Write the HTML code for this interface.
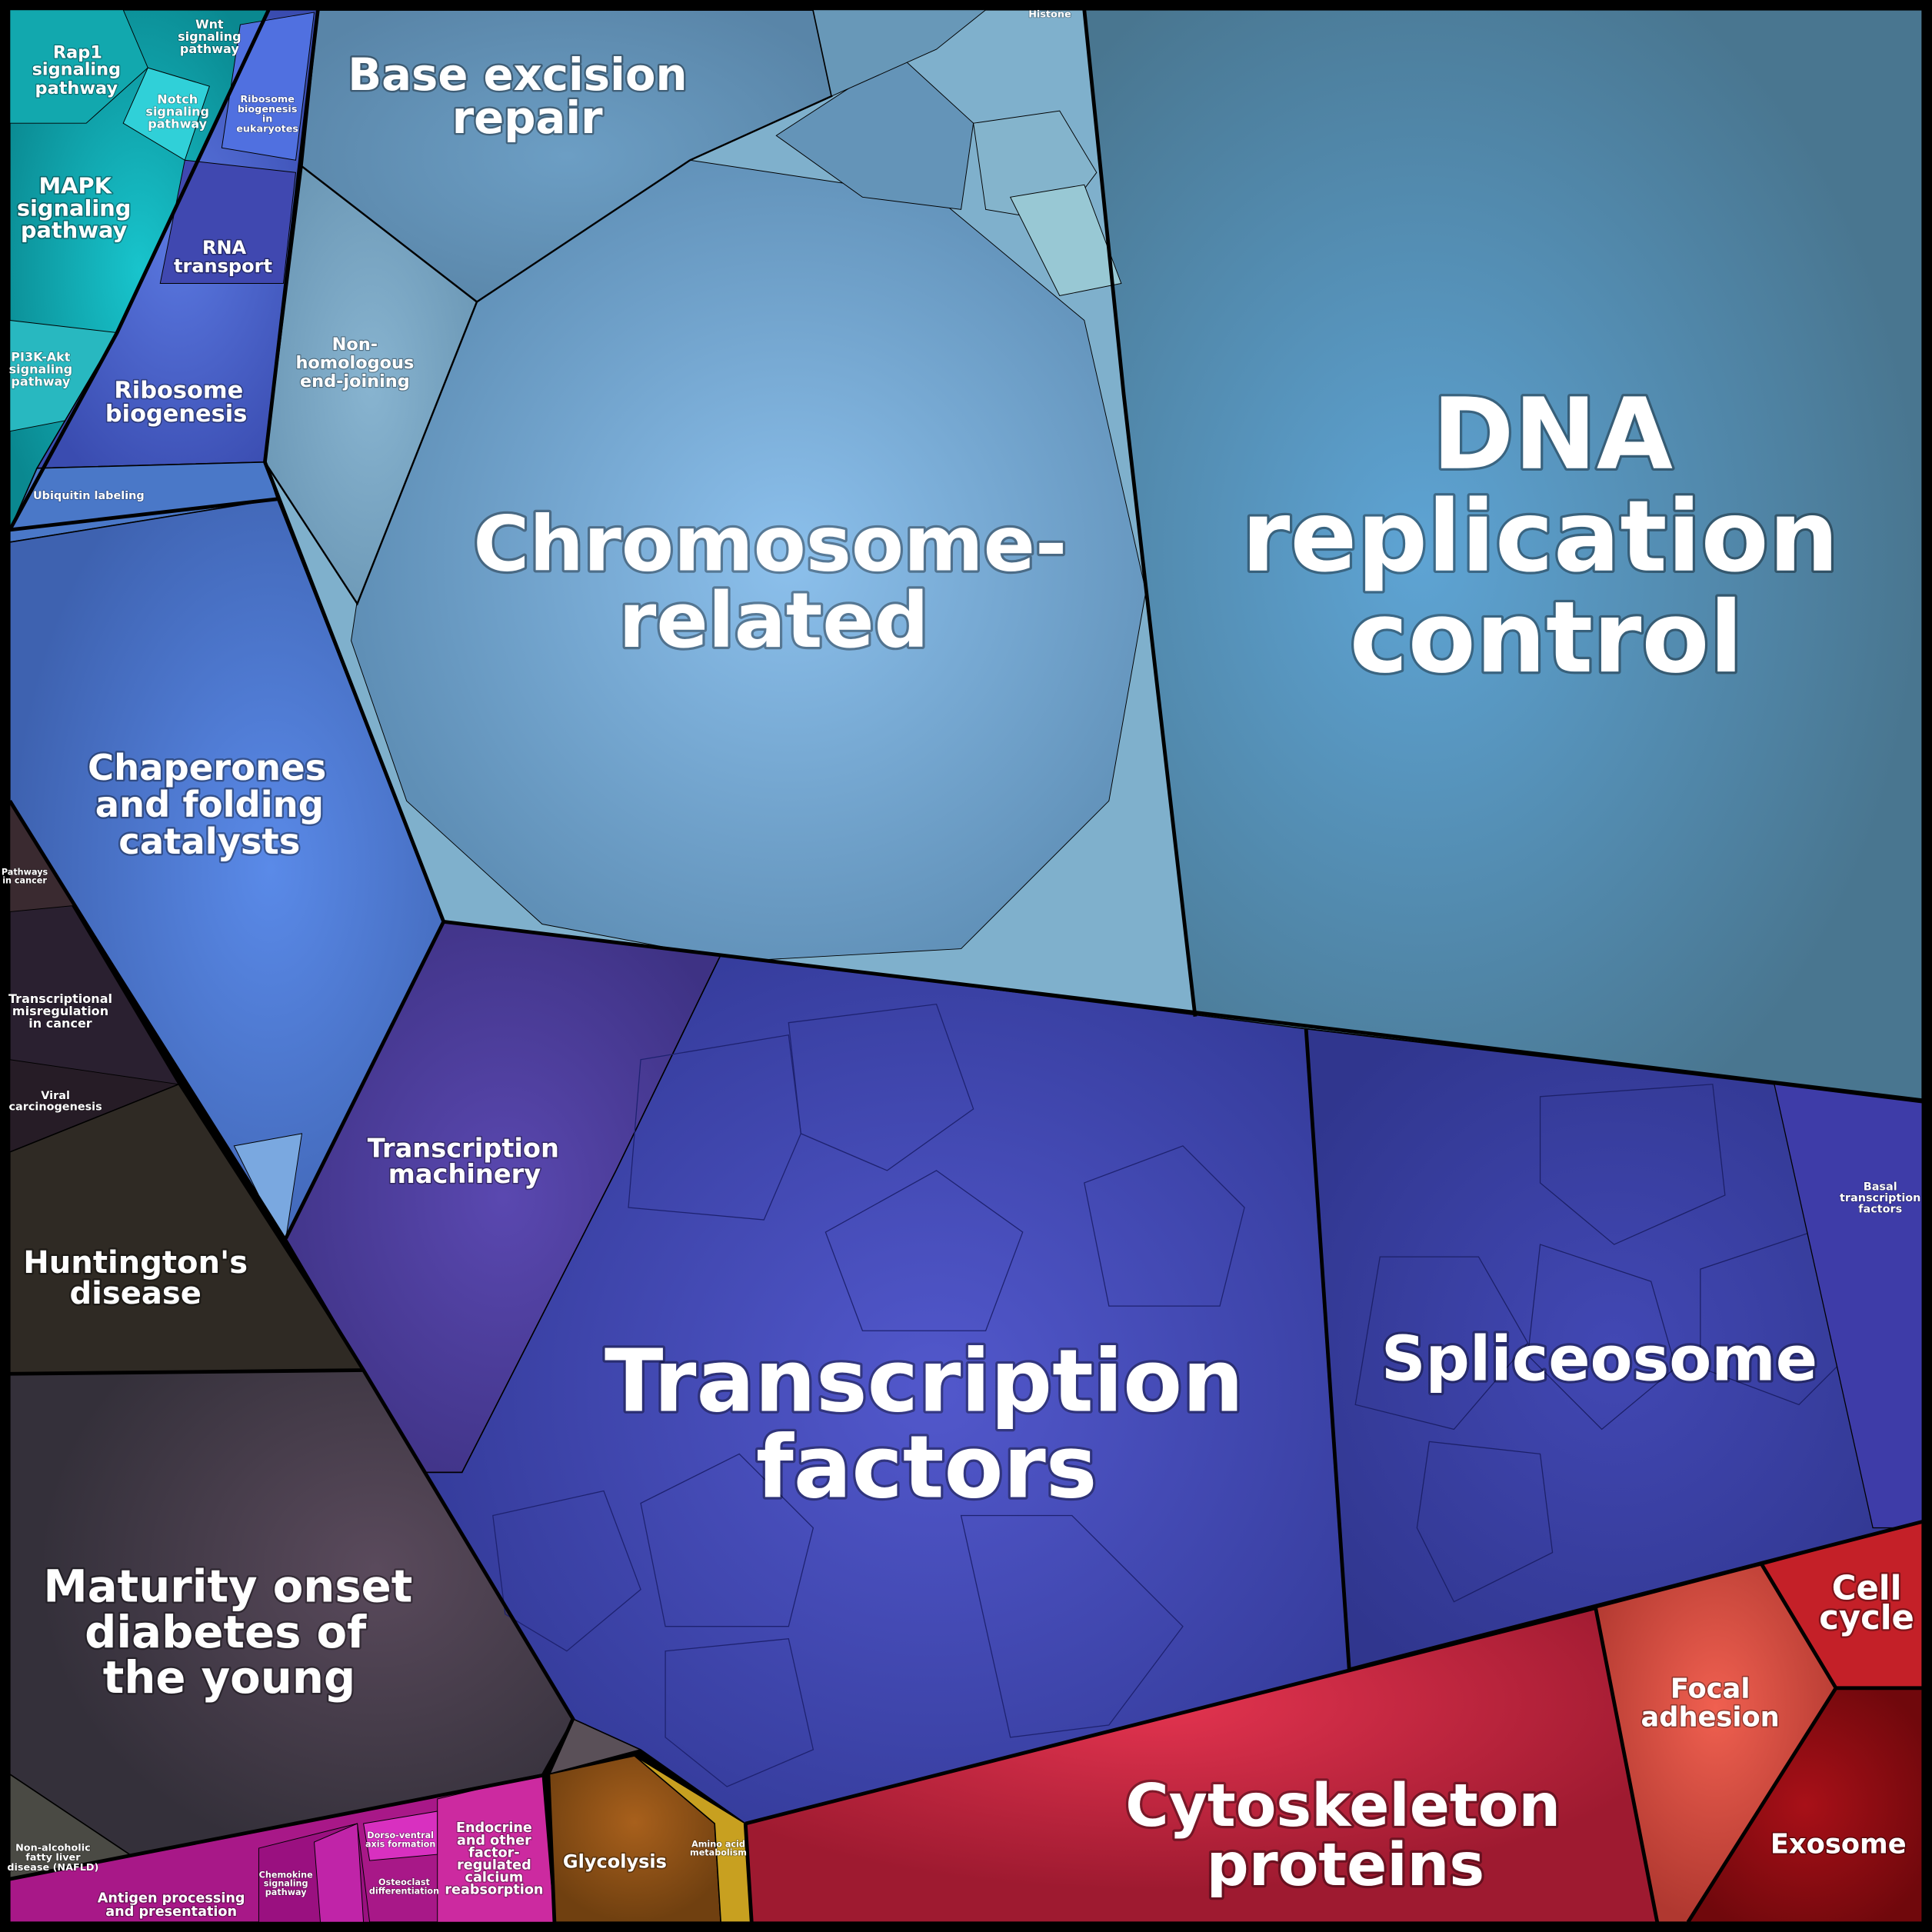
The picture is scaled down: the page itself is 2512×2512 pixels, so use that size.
<!DOCTYPE html>
<html><head><meta charset="utf-8"><style>
html,body{margin:0;padding:0;background:#000;}
svg{display:block;}
text{font-family:"DejaVu Sans","Liberation Sans",sans-serif;font-weight:bold;fill:#fff;text-anchor:middle;paint-order:stroke;stroke:rgba(0,0,0,0.35);stroke-linejoin:round;}
</style></head><body>
<svg width="2512" height="2512" viewBox="0 0 1568 1568" xmlns="http://www.w3.org/2000/svg">
<defs>
<radialGradient id="gDNA" cx="0.4" cy="0.5" r="0.6"><stop offset="0" stop-color="#5ea4d4"/><stop offset="1" stop-color="#497690"/></radialGradient>
<radialGradient id="gChr" cx="0.55" cy="0.5" r="0.55"><stop offset="0" stop-color="#8cc0ec"/><stop offset="1" stop-color="#5f8fb6"/></radialGradient>
<radialGradient id="gBase" cx="0.5" cy="0.5" r="0.6"><stop offset="0" stop-color="#6c9ec4"/><stop offset="1" stop-color="#5985a8"/></radialGradient>
<radialGradient id="gNon" cx="0.5" cy="0.5" r="0.6"><stop offset="0" stop-color="#88b4d0"/><stop offset="1" stop-color="#6a96b4"/></radialGradient>
<radialGradient id="gTF" cx="0.55" cy="0.5" r="0.6"><stop offset="0" stop-color="#5258cc"/><stop offset="1" stop-color="#333a98"/></radialGradient>
<radialGradient id="gTM" cx="0.5" cy="0.5" r="0.6"><stop offset="0" stop-color="#5a48b0"/><stop offset="1" stop-color="#3e3284"/></radialGradient>
<radialGradient id="gSp" cx="0.5" cy="0.5" r="0.6"><stop offset="0" stop-color="#4248b4"/><stop offset="1" stop-color="#30368e"/></radialGradient>
<radialGradient id="gCh" cx="0.6" cy="0.5" r="0.6"><stop offset="0" stop-color="#5a8ae8"/><stop offset="1" stop-color="#3e62b0"/></radialGradient>
<radialGradient id="gRib" cx="0.5" cy="0.5" r="0.6"><stop offset="0" stop-color="#5a78e0"/><stop offset="1" stop-color="#3a4cb0"/></radialGradient>
<radialGradient id="gTeal" cx="0.5" cy="0.5" r="0.6"><stop offset="0" stop-color="#18c4cc"/><stop offset="1" stop-color="#0a8890"/></radialGradient>
<radialGradient id="gMat" cx="0.65" cy="0.4" r="0.6"><stop offset="0" stop-color="#5a4a5c"/><stop offset="1" stop-color="#34303a"/></radialGradient>
<radialGradient id="gCyt" cx="0.45" cy="0.3" r="0.6"><stop offset="0" stop-color="#e43450"/><stop offset="1" stop-color="#9e1a30"/></radialGradient>
<radialGradient id="gFoc" cx="0.5" cy="0.4" r="0.6"><stop offset="0" stop-color="#f06050"/><stop offset="1" stop-color="#b03830"/></radialGradient>
<radialGradient id="gExo" cx="0.5" cy="0.5" r="0.6"><stop offset="0" stop-color="#a81018"/><stop offset="1" stop-color="#70080c"/></radialGradient>
<radialGradient id="gGly" cx="0.5" cy="0.4" r="0.6"><stop offset="0" stop-color="#a8601c"/><stop offset="1" stop-color="#704010"/></radialGradient>
</defs>
<rect width="1568" height="1568" fill="#000"/>
<g stroke="#000" stroke-width="1">
<polygon points="880,8 1560,8 1560,893 1060,835 970,825 912,320" fill="url(#gDNA)"/>
<polygon points="258,8 880,8 912,320 970,825 360,748 215,375 245,135" fill="#7fb0cc"/>
<polygon points="300,420 380,250 560,130 760,160 880,260 930,480 900,650 780,770 600,780 440,750 330,650 285,520" fill="url(#gChr)" stroke-width="0.6"/>
<polygon points="258,8 660,8 675,78 560,130 387,245 245,135" fill="url(#gBase)" stroke-width="1.5"/>
<polygon points="245,135 387,245 290,490 215,375" fill="url(#gNon)" stroke-width="1.5"/>
<polygon points="630,110 730,45 790,100 780,170 700,160" fill="#6494b8" stroke-width="0.6"/>
<polygon points="790,100 860,90 890,140 860,180 800,170" fill="#84b4cc" stroke-width="0.6"/>
<polygon points="820,160 880,150 910,230 860,240" fill="#98c8d4" stroke-width="0.6"/>
<polygon points="660,8 800,8 760,40 675,78" fill="#6898b8" stroke-width="0.6"/>
<polygon points="8,8 218,8 95,270 8,430" fill="url(#gTeal)"/>
<polygon points="8,8 100,8 120,55 70,100 8,100" fill="#12a8ae" stroke-width="0.6"/>
<polygon points="120,55 170,70 150,130 100,100" fill="#30d0d8" stroke-width="0.6"/>
<polygon points="8,260 95,270 60,340 8,350" fill="#28b8c0" stroke-width="0.6"/>
<polygon points="218,8 258,8 215,375 30,380 95,270" fill="url(#gRib)"/>
<polygon points="150,130 240,140 230,230 130,230" fill="#4048b0" stroke-width="0.6"/>
<polygon points="195,20 255,10 240,130 180,120" fill="#5070e0" stroke-width="0.6"/>
<polygon points="30,380 215,375 225,405 8,440 8,430" fill="#4a78c8"/>
<polygon points="8,440 225,405 360,748 232,1005 8,650" fill="url(#gCh)"/>
<polygon points="190,930 245,920 232,1005 210,970" fill="#7aa8e0" stroke-width="0.6"/>
<polygon points="8,650 145,880 8,935" fill="#2a2030"/>
<polygon points="8,650 60,735 8,740" fill="#3a2a30" stroke-width="0.6"/>
<polygon points="8,860 145,880 8,935" fill="#261c26" stroke-width="0.6"/>
<polygon points="8,935 145,880 295,1112 8,1115" fill="#2f2a24"/>
<polygon points="8,1115 295,1112 465,1395 440,1440 120,1515 8,1440" fill="url(#gMat)"/>
<polygon points="8,1440 120,1515 8,1525" fill="#4a4a44"/>
<polygon points="8,1525 440,1440 450,1560 8,1560" fill="#a81888"/>
<polygon points="210,1500 290,1480 300,1560 210,1560" fill="#9a1080" stroke-width="0.6"/>
<polygon points="255,1495 290,1480 295,1560 260,1560" fill="#c024a8" stroke-width="0.6"/>
<polygon points="295,1480 355,1470 355,1505 300,1510" fill="#d830c0" stroke-width="0.6"/>
<polygon points="355,1460 440,1440 450,1560 355,1560" fill="#cc2aa0" stroke-width="0.6"/>
<polygon points="465,1395 520,1420 445,1440" fill="#5a5058"/>
<polygon points="445,1440 515,1425 580,1480 585,1560 450,1560" fill="url(#gGly)"/>
<polygon points="515,1425 605,1480 610,1560 585,1560 580,1480" fill="#c8a020"/>
<polygon points="360,748 585,775 500,950 375,1195 345,1195 295,1112 232,1005" fill="url(#gTM)"/>
<polygon points="585,775 1060,835 1095,1355 605,1480 520,1420 465,1395 345,1195 375,1195 500,950" fill="url(#gTF)"/>
<g fill="none" stroke="#1e2270" stroke-width="0.8">
<polygon points="640,830 760,815 790,900 720,950 650,920"/>
<polygon points="520,860 640,840 650,920 620,990 510,980"/>
<polygon points="670,1000 760,950 830,1000 800,1080 700,1080"/>
<polygon points="880,960 960,930 1010,980 990,1060 900,1060"/>
<polygon points="520,1220 600,1180 660,1240 640,1320 540,1320"/>
<polygon points="780,1230 870,1230 960,1320 900,1400 820,1410"/>
<polygon points="400,1230 490,1210 520,1290 460,1340 410,1310"/>
<polygon points="540,1340 640,1330 660,1420 590,1450 540,1410"/>
</g>
<polygon points="1060,835 1440,880 1560,1240 1095,1355" fill="url(#gSp)"/>
<g fill="none" stroke="#1c2068" stroke-width="0.8">
<polygon points="1120,1020 1200,1020 1240,1090 1180,1160 1100,1140"/>
<polygon points="1250,1010 1340,1040 1360,1110 1300,1160 1240,1100"/>
<polygon points="1250,890 1390,880 1400,970 1310,1010 1250,960"/>
<polygon points="1380,1030 1470,1000 1520,1080 1460,1140 1380,1110"/>
<polygon points="1160,1170 1250,1180 1260,1260 1180,1300 1150,1240"/>
</g>
<polygon points="1440,880 1560,895 1560,1240 1520,1240" fill="#3e3ca8" stroke-width="0.8"/>
<polygon points="605,1480 1295,1305 1345,1560 610,1560" fill="url(#gCyt)"/>
<polygon points="1295,1305 1430,1270 1490,1370 1370,1560 1345,1560" fill="url(#gFoc)"/>
<polygon points="1430,1270 1560,1235 1560,1370 1490,1370" fill="#c42028"/>
<polygon points="1490,1370 1560,1370 1560,1560 1370,1560" fill="url(#gExo)"/>
</g>
<g stroke="#000" stroke-width="3" fill="none">
<polyline points="880,8 912,320 970,825"/>
<polyline points="360,748 1560,893"/>
<polyline points="215,375 360,748 232,1005"/>
<polyline points="258,8 215,375"/>
<polyline points="218,8 95,270 8,430"/>
<polyline points="8,650 295,1112 465,1395 445,1440 8,1525"/>
<polyline points="8,1115 295,1112"/>
<polyline points="1060,835 1095,1355"/>
<polyline points="1095,1355 1560,1235"/>
<polyline points="605,1480 1295,1305"/>
<polyline points="1295,1305 1345,1560"/>
<polyline points="1430,1270 1490,1370 1370,1560"/>
<polyline points="1490,1370 1560,1370"/>
<polyline points="445,1440 450,1560"/>
<polyline points="605,1480 610,1560"/>
<polyline points="8,430 225,405"/>
</g>
<rect x="4" y="4" width="1560" height="1560" fill="none" stroke="#000" stroke-width="8"/>
<g stroke-width="4">
<text x="1260" y="380" font-size="80">DNA</text>
<text x="1250" y="463" font-size="80">replication</text>
<text x="1255" y="545" font-size="80">control</text>
<text x="625" y="463" font-size="62">Chromosome-</text>
<text x="628" y="525" font-size="62">related</text>
<text x="750" y="1145" font-size="70">Transcription</text>
<text x="752" y="1215" font-size="70">factors</text>
<text x="1298" y="1120" font-size="50">Spliceosome</text>
<text x="1090" y="1482" font-size="48">Cytoskeleton</text>
<text x="1092" y="1530" font-size="48">proteins</text>
</g>
<g stroke-width="3">
<text x="420" y="73" font-size="36">Base excision</text>
<text x="428" y="108" font-size="36">repair</text>
<text x="185" y="1300" font-size="36">Maturity onset</text>
<text x="183" y="1337" font-size="36">diabetes of</text>
<text x="186" y="1374" font-size="36">the young</text>
<text x="168" y="633" font-size="29">Chaperones</text>
<text x="170" y="663" font-size="29">and folding</text>
<text x="170" y="693" font-size="29">catalysts</text>
<text x="1515" y="1298" font-size="27">Cell</text>
<text x="1515" y="1322" font-size="27">cycle</text>
<text x="110" y="1033" font-size="25">Huntington's</text>
<text x="110" y="1058" font-size="25">disease</text>
</g>
<g stroke-width="2">
<text x="1388" y="1378" font-size="22">Focal</text>
<text x="1388" y="1401" font-size="22">adhesion</text>
<text x="1492" y="1504" font-size="22">Exosome</text>
<text x="376" y="939" font-size="21">Transcription</text>
<text x="377" y="960" font-size="21">machinery</text>
<text x="145" y="323" font-size="19">Ribosome</text>
<text x="143" y="342" font-size="19">biogenesis</text>
<text x="61" y="157" font-size="18">MAPK</text>
<text x="60" y="175" font-size="18">signaling</text>
<text x="60" y="193" font-size="18">pathway</text>
<text x="182" y="206" font-size="15">RNA</text>
<text x="181" y="221" font-size="15">transport</text>
<text x="499" y="1516" font-size="15">Glycolysis</text>
</g>
<g stroke-width="1.5">
<text x="63" y="47" font-size="14">Rap1</text>
<text x="62" y="61" font-size="14">signaling</text>
<text x="62" y="76" font-size="14">pathway</text>
<text x="288" y="284" font-size="14">Non-</text>
<text x="288" y="299" font-size="14">homologous</text>
<text x="288" y="314" font-size="14">end-joining</text>
<text x="401" y="1487" font-size="11">Endocrine</text>
<text x="401" y="1497" font-size="11">and other</text>
<text x="401" y="1507" font-size="11">factor-</text>
<text x="401" y="1517" font-size="11">regulated</text>
<text x="401" y="1527" font-size="11">calcium</text>
<text x="401" y="1537" font-size="11">reabsorption</text>
<text x="139" y="1544" font-size="11">Antigen processing</text>
<text x="139" y="1555" font-size="11">and presentation</text>
</g>
<g stroke-width="1">
<text x="170" y="23" font-size="10">Wnt</text>
<text x="170" y="33" font-size="10">signaling</text>
<text x="170" y="43" font-size="10">pathway</text>
<text x="144" y="84" font-size="10">Notch</text>
<text x="144" y="94" font-size="10">signaling</text>
<text x="144" y="104" font-size="10">pathway</text>
<text x="33" y="293" font-size="10">PI3K-Akt</text>
<text x="33" y="303" font-size="10">signaling</text>
<text x="33" y="313" font-size="10">pathway</text>
<text x="72" y="405" font-size="9">Ubiquitin labeling</text>
<text x="49" y="814" font-size="10">Transcriptional</text>
<text x="49" y="824" font-size="10">misregulation</text>
<text x="49" y="834" font-size="10">in cancer</text>
<text x="45" y="892" font-size="9">Viral</text>
<text x="45" y="901" font-size="9">carcinogenesis</text>
<text x="1526" y="966" font-size="9">Basal</text>
<text x="1526" y="975" font-size="9">transcription</text>
<text x="1526" y="984" font-size="9">factors</text>
<text x="43" y="1502" font-size="8">Non-alcoholic</text>
<text x="43" y="1510" font-size="8">fatty liver</text>
<text x="43" y="1518" font-size="8">disease (NAFLD)</text>
<text x="217" y="83" font-size="8">Ribosome</text>
<text x="217" y="91" font-size="8">biogenesis</text>
<text x="217" y="99" font-size="8">in</text>
<text x="217" y="107" font-size="8">eukaryotes</text>
<text x="852" y="14" font-size="8">Histone</text>
<text x="583" y="1499" font-size="7">Amino acid</text>
<text x="583" y="1506" font-size="7">metabolism</text>
<text x="325" y="1492" font-size="7">Dorso-ventral</text>
<text x="325" y="1499" font-size="7">axis formation</text>
<text x="232" y="1524" font-size="7">Chemokine</text>
<text x="232" y="1531" font-size="7">signaling</text>
<text x="232" y="1538" font-size="7">pathway</text>
<text x="328" y="1530" font-size="7">Osteoclast</text>
<text x="328" y="1537" font-size="7">differentiation</text>
<text x="20" y="710" font-size="7">Pathways</text>
<text x="20" y="717" font-size="7">in cancer</text>
</g>
</svg>
</body></html>
